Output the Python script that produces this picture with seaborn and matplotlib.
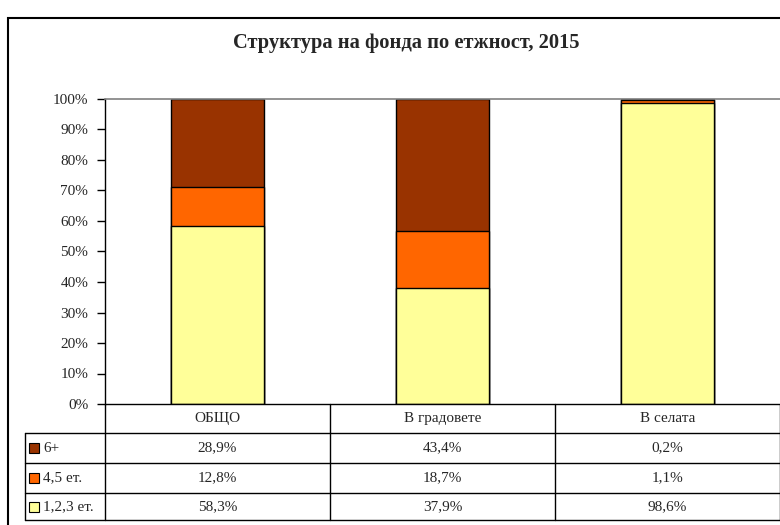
import numpy as np
import pandas as pd
import seaborn as sns
import matplotlib.pyplot as plt
from matplotlib.patches import Rectangle
from matplotlib.lines import Line2D

TITLE = "Структура на фонда по етжност, 2015"
CATEGORIES = ["ОБЩО", "В градовете", "В селата"]
SERIES = ["6+", "4,5 ет.", "1,2,3 ет."]
VAL_6PLUS = [28.9, 43.4, 0.2]
VAL_45 = [12.8, 18.7, 1.1]
VAL_123 = [58.3, 37.9, 98.6]
COLORS = ["#993300", "#FF6600", "#FFFF99"]

W, H = 780, 525
sns.set_style("white")
plt.rcParams["font.family"] = ["Liberation Serif", "DejaVu Serif"]

fig = plt.figure(figsize=(W / 100, H / 100), dpi=100)
# plot area in pixels: left 105, top 99, bottom 404, right 780
ax = fig.add_axes([105 / W, (H - 404) / H, 675 / W, 305 / H])

# stacked bars drawn as cumulative totals, back to front
df = pd.DataFrame({"cat": CATEGORIES, "6+": VAL_6PLUS, "45": VAL_45, "123": VAL_123})
layers = [
    (df["123"] + df["45"] + df["6+"], COLORS[0]),
    (df["123"] + df["45"], COLORS[1]),
    (df["123"], COLORS[2]),
]
for heights, col in layers:
    sns.barplot(x=df["cat"], y=heights, color=col, saturation=1, width=0.41,
                edgecolor="black", linewidth=1, ax=ax, order=CATEGORIES)

ax.set_ylim(0, 100)
ax.set_xlim(-0.5, 2.5)
ax.set_yticks(np.arange(0, 101, 10))
ax.set_yticklabels([f"{v}%" for v in range(0, 101, 10)], fontsize=11)
ax.set_xticks([])
ax.set_xlabel("")
ax.set_ylabel("")
ax.tick_params(axis="y", direction="out", length=6, width=1, color="black", pad=6, left=True)
for s in ["right", "bottom"]:
    ax.spines[s].set_visible(False)
ax.spines["left"].set_color("black")
ax.spines["left"].set_linewidth(1)
ax.spines["top"].set_color("#808080")
ax.spines["top"].set_linewidth(1.2)

# data table under the chart (drawn in pixel coords of the figure)
def px(x, y):
    return x / W, 1 - y / H

def hline(x0, x1, y):
    (a, b), (c, d) = px(x0, y), px(x1, y)
    fig.add_artist(Line2D([a, c], [b, d], color="black", lw=1))

def vline(x, y0, y1):
    (a, b), (c, d) = px(x, y0), px(x, y1)
    fig.add_artist(Line2D([a, c], [b, d], color="black", lw=1))

col_edges = [105, 330, 555, 780]
row_edges = [404, 433, 463, 493, 520]
hline(105, 780, row_edges[0])
for y in row_edges[1:]:
    hline(25, 780, y)
for x in col_edges:
    vline(x, row_edges[0], row_edges[-1])
vline(25, row_edges[1], row_edges[-1])

cell_text = [
    [f"{v:.1f}%".replace(".", ",") for v in VAL_6PLUS],
    [f"{v:.1f}%".replace(".", ",") for v in VAL_45],
    [f"{v:.1f}%".replace(".", ",") for v in VAL_123],
]
for j, cat in enumerate(CATEGORIES):
    xc = (col_edges[j] + col_edges[j + 1]) / 2
    fig.text(*px(xc, (row_edges[0] + row_edges[1]) / 2), cat,
             ha="center", va="center", fontsize=11)
    for i in range(3):
        yc = (row_edges[i + 1] + row_edges[i + 2]) / 2
        fig.text(*px(xc, yc), cell_text[i][j], ha="center", va="center", fontsize=11)

# legend keys and series names
for i, (name, col) in enumerate(zip(SERIES, COLORS)):
    yc = (row_edges[i + 1] + row_edges[i + 2]) / 2
    x0, y0 = px(29, yc + 5)
    fig.patches.append(Rectangle((x0, y0), 10 / W, 10 / H, transform=fig.transFigure,
                                 facecolor=col, edgecolor="black", linewidth=0.8))
    fig.text(*px(43, yc), name, ha="left", va="center", fontsize=11)

fig.text(*px(406, 43), TITLE, ha="center", va="center",
         fontsize=14.8, fontweight="bold")

# chart outer border
fig.patches.append(Rectangle((8 / W, -0.1), 1.2, (H - 18) / H + 0.1,
                             transform=fig.transFigure, fill=False,
                             edgecolor="black", linewidth=1.5))

fig.savefig("out.png", dpi=100)
